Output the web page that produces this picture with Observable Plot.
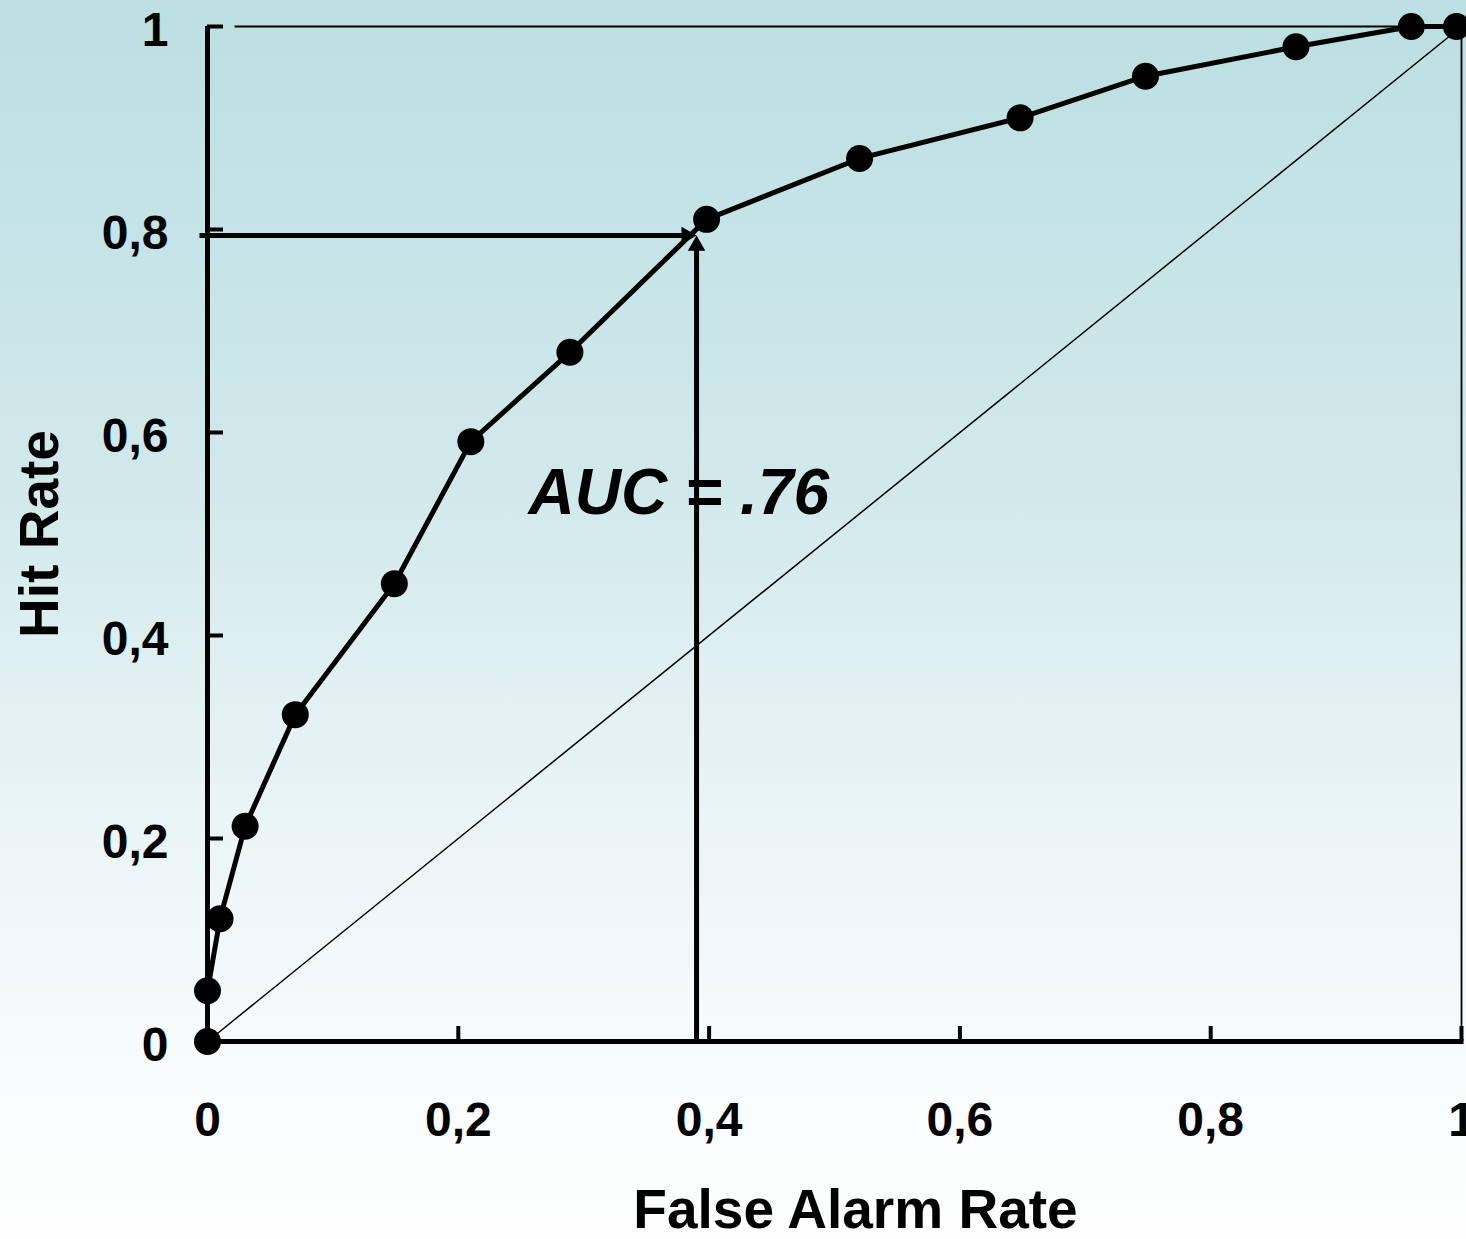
<!DOCTYPE html>
<html>
<head>
<meta charset="utf-8">
<script src="https://cdn.jsdelivr.net/npm/d3@7"></script>
<script src="https://cdn.jsdelivr.net/npm/@observablehq/plot@0.6"></script>
<style>
  html, body { margin: 0; padding: 0; background: #fff; }
</style>
</head>
<body>
<div id="chart"></div>
<script>
// ROC curve data
const falseAlarmRate = [0, 0, 0.01, 0.03, 0.07, 0.149, 0.21, 0.289, 0.398, 0.52, 0.648, 0.748, 0.868, 0.96, 0.996];
const hitRate        = [0, 0.05, 0.121, 0.212, 0.322, 0.451, 0.591, 0.679, 0.81, 0.87, 0.91, 0.951, 0.98, 1, 1];

const tickValues = [0, 0.2, 0.4, 0.6, 0.8, 1];
const tickLabels = ["0", "0,2", "0,4", "0,6", "0,8", "1"];

const xTitle = "False Alarm Rate";
const yTitle = "Hit Rate";

// annotation: AUC text and guide arrows to the operating point
const aucNote = [{fa: 0.256, hit: 0.54, label: "AUC = .76"}];
const guideFA = 0.39;
const guideHit = 0.794;

// chance diagonal
const chance = [{fa: 0, hit: 0}, {fa: 1, hit: 1}];

const points = falseAlarmRate.map((fa, i) => ({fa, hit: hitRate[i]}));
const hArrow = [{x1: 0, y1: guideHit, x2: guideFA, y2: guideHit}];
const vArrow = [{x1: guideFA, y1: 0, x2: guideFA, y2: guideHit}];
const fmt = d => tickLabels[tickValues.indexOf(d)];

const W = 1466, H = 1239;
const mL = 207, mR = 5, mT = 26, mB = 198;
const frameW = W - mL - mR, frameH = H - mT - mB;
const tickLen = 16;

const chart = Plot.plot({
  width: W,
  height: H,
  marginLeft: mL, marginRight: mR, marginTop: mT, marginBottom: mB,
  x: {domain: [0, 1]},
  y: {domain: [0, 1]},
  style: {
    background: "linear-gradient(180deg, #bbdfe2 0%, #c6e4e7 20%, #d2e9eb 40%, #e2f1f2 57%, #eff7f8 73%, #f9fcfd 88%, #fefefe 100%)",
    fontFamily: "'Liberation Sans', Arial, Helvetica, sans-serif",
    color: "black",
    overflow: "hidden"
  },
  marks: [
    // tick labels
    Plot.axisY(tickValues, {tickSize: 0, tickPadding: 39, tickFormat: fmt, fontSize: 48, fontWeight: "bold", dy: 4, label: null, fill: "black"}),
    Plot.axisX(tickValues, {tickSize: 0, tickPadding: 60, tickFormat: fmt, fontSize: 48, fontWeight: "bold", label: null, fill: "black"}),
    // chance diagonal
    Plot.line(chance, {x: "fa", y: "hit", stroke: "black", strokeWidth: 1.5}),
    // thin frame top and right
    Plot.ruleY([1], {x1: 0.022, x2: 1, stroke: "black", strokeWidth: 1.8}),
    Plot.ruleX([1], {y1: 0, y2: 1, stroke: "black", strokeWidth: 1.8}),
    // thick axes
    Plot.ruleX([0], {y1: 0, y2: 1, stroke: "black", strokeWidth: 5}),
    Plot.ruleY([0], {x1: 0, x2: 1, stroke: "black", strokeWidth: 5, strokeLinecap: "square"}),
    // inward ticks
    Plot.tickY(tickValues.filter(d => d > 0), {y: d => d, stroke: "black", strokeWidth: 4, insetRight: frameW - tickLen}),
    Plot.tickX(tickValues.filter(d => d > 0), {x: d => d, stroke: "black", strokeWidth: 4, insetTop: frameH - 15}),
    // guide arrows
    Plot.arrow(hArrow, {x1: "x1", y1: "y1", x2: "x2", y2: "y2", headLength: 0, strokeWidth: 5, stroke: "black", insetStart: -8, insetEnd: 8, strokeLinecap: "butt"}),
    Plot.arrow(vArrow, {x1: "x1", y1: "y1", x2: "x2", y2: "y2", headLength: 0, strokeWidth: 5, stroke: "black", insetEnd: 8, strokeLinecap: "butt"}),
    Plot.dot(hArrow, {x: "x2", y: "y2", symbol: "triangle", r: 6.5, fill: "black", stroke: "none", rotate: 90, dx: -10}),
    Plot.dot(vArrow, {x: "x2", y: "y2", symbol: "triangle", r: 6.5, fill: "black", stroke: "none", dy: 10}),
    // ROC curve
    Plot.line(points, {x: "fa", y: "hit", stroke: "black", strokeWidth: 5, strokeLinejoin: "round"}),
    Plot.dot(points, {x: "fa", y: "hit", r: 13.5, fill: "black", stroke: "none"}),
    // annotation
    Plot.text(aucNote, {x: "fa", y: "hit", text: "label", textAnchor: "start", fontSize: 64, fontWeight: "bold", fontStyle: "italic", fill: "black"}),
    // axis titles
    Plot.text([yTitle], {text: d => d, frameAnchor: "left", textAnchor: "middle", rotate: -90, dx: -167, fontSize: 55, fontWeight: "bold", fill: "black"}),
    Plot.text([xTitle], {text: d => d, frameAnchor: "bottom", textAnchor: "middle", dx: 21, dy: 186, fontSize: 55, fontWeight: "bold", fill: "black"})
  ]
});

document.getElementById("chart").appendChild(chart);
</script>
</body>
</html>
